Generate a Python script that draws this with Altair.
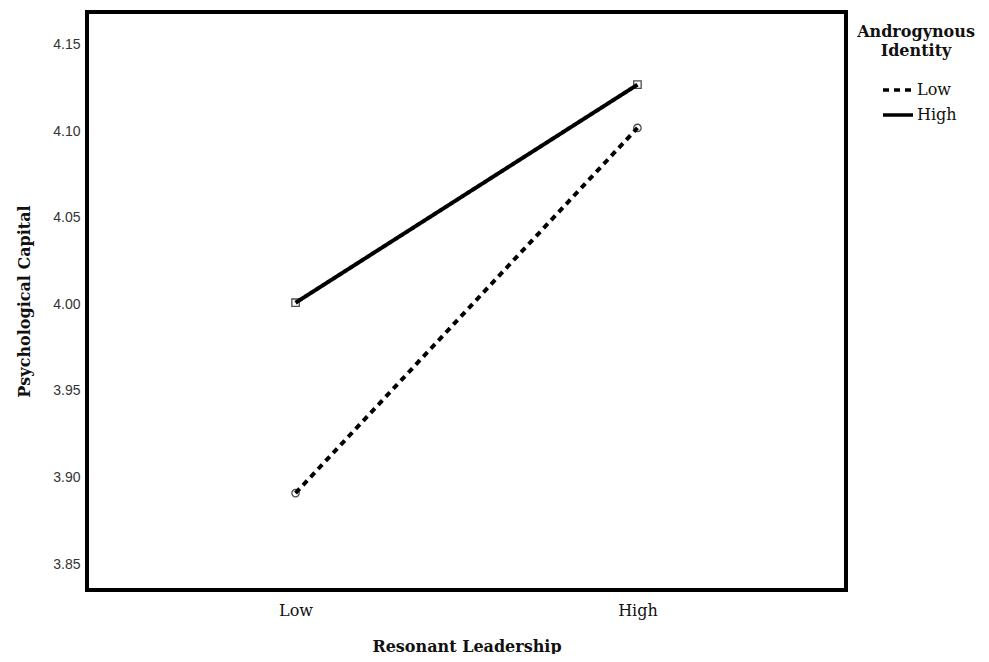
import altair as alt
import pandas as pd

leadership = ["Low", "High", "Low", "High"]
identity = ["Low", "Low", "High", "High"]
capital = [3.891, 4.102, 4.001, 4.127]

y_ticks = [3.85, 3.90, 3.95, 4.00, 4.05, 4.10, 4.15]

df = pd.DataFrame({"Resonant Leadership": leadership,
                   "Androgynous Identity": identity,
                   "Psychological Capital": capital})

serif = "DejaVu Serif"
sans = "Liberation Sans"

x_enc = alt.X("Resonant Leadership:N", sort=["Low", "High"],
              scale=alt.Scale(type="point", padding=0.61),
              axis=alt.Axis(title="Resonant Leadership", labelAngle=0, ticks=False, domain=False,
                            labelFont=serif, labelFontSize=16, labelColor="#111", labelPadding=12,
                            titleFont=serif, titleFontSize=16, titleFontWeight="bold",
                            titlePadding=20, titleColor="#111"))
y_enc = alt.Y("Psychological Capital:Q",
              scale=alt.Scale(domain=[3.835, 4.169], nice=False, zero=False),
              axis=alt.Axis(title="Psychological Capital", values=y_ticks, format=".2f",
                            ticks=False, domain=False, grid=False,
                            labelFont=sans, labelFontSize=14, labelColor="#333", labelPadding=7,
                            titleFont=serif, titleFontSize=16, titleFontWeight="bold",
                            titlePadding=20, titleColor="#111"))

lines = alt.Chart(df).mark_line(color="black", strokeWidth=4, strokeCap="butt").encode(
    x=x_enc, y=y_enc,
    strokeDash=alt.StrokeDash("Androgynous Identity:N", sort=["Low", "High"],
                              scale=alt.Scale(domain=["Low", "High"], range=[[6, 5], [1, 0]]),
                              legend=alt.Legend(title=["Androgynous", "Identity"],
                                                orient="none", legendX=770, legendY=12,
                                                titleFont=serif, titleFontSize=16,
                                                titleFontWeight="bold", titleColor="#111",
                                                titleAnchor="middle", titleAlign="center",
                                                titleLineHeight=19, titlePadding=14,
                                                labelFont=serif, labelFontSize=16, labelColor="#111",
                                                labelOffset=2,
                                                symbolType="stroke", symbolSize=900,
                                                symbolStrokeWidth=3.5, symbolStrokeColor="black",
                                                symbolOffset=6, rowPadding=-6)),
)

low_pts = alt.Chart(df).transform_filter(
    "datum['Androgynous Identity'] == 'Low'"
).mark_point(shape="circle", filled=False, color="black", size=55, strokeWidth=1.3).encode(
    x=x_enc, y=y_enc)

high_pts = alt.Chart(df).transform_filter(
    "datum['Androgynous Identity'] == 'High'"
).mark_point(shape="square", filled=False, color="black", size=55, strokeWidth=1.3).encode(
    x=x_enc, y=y_enc)

chart = (lines + low_pts + high_pts).properties(
    width=759, height=578,
    background="white",
    autosize=alt.AutoSizeParams(type="none"),
    padding={"left": 79, "top": 4, "right": 135, "bottom": 64},
).configure_view(stroke="black", strokeWidth=4)

chart.save("out.html", embed_options={"renderer": "svg", "actions": False})
